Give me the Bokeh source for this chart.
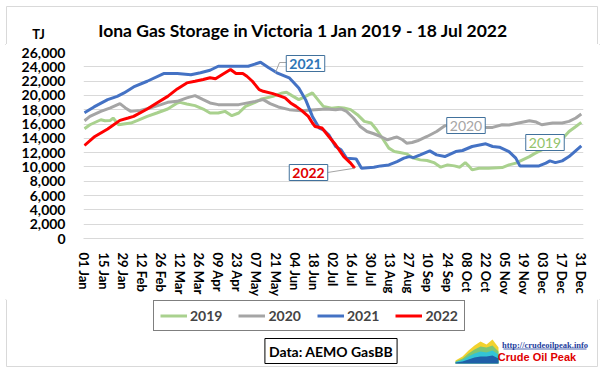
from bokeh.plotting import figure
from bokeh.layouts import column, row
from bokeh.models import (Range1d, FixedTicker, NumeralTickFormatter, Label, Legend,
                          LegendItem)
from bokeh.embed import file_html
from bokeh.resources import INLINE

# ---------------- data ----------------
tick_days = [0, 14, 28, 42, 56, 70, 84, 98, 112, 126, 140, 154, 168, 182, 196, 210,
             224, 238, 252, 266, 280, 294, 308, 322, 336, 350, 364]
tick_labels = ["01 Jan", "15 Jan", "29 Jan", "12 Feb", "26 Feb", "12 Mar", "26 Mar",
               "09 Apr", "23 Apr", "07 May", "21 May", "04 Jun", "18 Jun", "02 Jul",
               "16 Jul", "30 Jul", "13 Aug", "27 Aug", "10 Sep", "24 Sep", "08 Oct",
               "22 Oct", "05 Nov", "19 Nov", "03 Dec", "17 Dec", "31 Dec"]
y_ticks = [0, 2000, 4000, 6000, 8000, 10000, 12000, 14000, 16000, 18000, 20000, 22000,
           24000, 26000]

days_2019 = [0, 4, 12, 15, 19, 21, 25, 30, 34, 39, 46, 53, 61, 68, 70, 75, 81, 87, 92, 98,
             103, 108, 113, 118, 125, 130, 138, 145, 148, 152, 157, 162, 167, 172, 175, 181,
             186, 190, 195, 200, 205, 210, 214, 219, 223, 227, 231, 236, 241, 246, 251, 256,
             261, 266, 271, 275, 279, 282, 284, 289, 296, 306, 311, 316, 321, 326, 330, 335,
             343, 350, 355, 360, 364]
tj_2019 = [15340, 15900, 16600, 16460, 16510, 16840, 15900, 16040, 16140, 16510, 17070,
           17540, 18100, 18950, 19030, 18810, 18570, 18100, 17540, 17540, 17770, 17170,
           17540, 18470, 19030, 19510, 19870, 20350, 20440, 19970, 19410, 19870, 20350,
           19170, 18470, 18200, 18300, 18250, 18010, 17310, 16370, 16140, 15200, 13800,
           12630, 12160, 12020, 11830, 11230, 10990, 10900, 10610, 9970, 10290, 10150,
           9970, 10610, 10050, 9590, 9830, 9830, 9910, 10290, 10530, 10990, 11450, 11900,
           12390, 13100, 13900, 14960, 15660, 16230]

days_2020 = [0, 4, 12, 19, 26, 30, 34, 41, 48, 56, 61, 68, 75, 81, 87, 92, 98, 113, 125,
             131, 136, 142, 150, 159, 169, 177, 184, 188, 192, 197, 202, 207, 212, 217, 222,
             226, 229, 233, 236, 240, 244, 251, 258, 264, 272, 285, 293, 299, 306, 311, 318,
             326, 331, 335, 343, 350, 355, 360, 364]
tj_2020 = [16460, 17070, 17770, 18250, 18850, 18250, 17770, 17910, 18250, 18710, 19030,
           19170, 19650, 19970, 19410, 18950, 18710, 18710, 19170, 19410, 18850, 18390,
           18010, 17870, 18010, 18100, 18010, 18110, 17770, 16840, 15660, 14960, 14640,
           14260, 13800, 14040, 14180, 13800, 13330, 13420, 13660, 14260, 14960, 15760,
           15900, 15550, 15530, 15530, 15900, 15860, 16140, 16460, 16280, 15900, 16140,
           16140, 16370, 16840, 17400]

days_2021 = [0, 7, 17, 24, 29, 36, 46, 58, 68, 78, 85, 92, 98, 120, 129, 135, 141, 150, 157,
             162, 167, 172, 175, 179, 184, 188, 192, 199, 203, 212, 217, 223, 229, 234, 238,
             241, 246, 253, 258, 264, 272, 277, 284, 294, 299, 304, 311, 316, 319, 333, 338,
             341, 345, 350, 355, 364]
tj_2021 = [17590, 18390, 19410, 19870, 20350, 21190, 21980, 23060, 23060, 22880, 23160,
           23520, 24080, 24080, 24640, 23860, 23160, 22460, 21050, 19410, 17070, 15440,
           15200, 14500, 12860, 12400, 11230, 11130, 9830, 9960, 10150, 10290, 10750, 11230,
           11450, 11310, 11690, 12250, 11690, 11450, 12150, 12300, 12860, 13240, 12860,
           12770, 12150, 11230, 10150, 10150, 10530, 10850, 10610, 10850, 11450, 12950]

days_2022 = [0, 7, 17, 26, 32, 36, 46, 53, 61, 68, 75, 81, 87, 92, 96, 101, 107, 111, 116,
             119, 123, 128, 131, 138, 144, 147, 151, 155, 159, 164, 167, 169, 174, 179, 184,
             190, 195, 198]
tj_2022 = [13000, 14180, 15300, 16510, 16840, 17070, 18100, 18950, 19870, 20910, 21750,
           21980, 22220, 22460, 22320, 22920, 23620, 23060, 23060, 22680, 21980, 20810,
           20580, 20250, 19870, 19650, 18950, 18470, 17910, 17070, 16140, 15660, 15440,
           14260, 13100, 11450, 10530, 9830]

series_names = ["2019", "2020", "2021", "2022"]
series_colors = ["#A9D18E", "#A5A5A5", "#4472C4", "#FF0000"]

title_text = "Iona Gas Storage in Victoria 1 Jan 2019 - 18 Jul 2022"
unit_text = "TJ"
source_text = "Data: AEMO GasBB"
logo_url = "http://crudeoilpeak.info"
logo_name = "Crude Oil Peak"

# ---------------- layout constants (page pixels) ----------------
W = 605
HEAD_H = 44
MAIN_TOP = 8
FL, FW, FH = 83, 500, 186
MAIN_BOTTOM = 58
MAIN_H = MAIN_TOP + FH + MAIN_BOTTOM
FOOT_H = 372 - HEAD_H - MAIN_H
FOOT_Y0 = HEAD_H + MAIN_H
X_START, X_END = -0.7, 365.6
Y_START, Y_END = 0, 26000
FT = HEAD_H + MAIN_TOP

FONT = "Lato"
BORDER = "#D9D9D9"


def px(X, Y):
    """reference page pixel -> main chart data coordinates (for callout placement)"""
    d = X_START + (X - FL) / FW * (X_END - X_START)
    v = Y_START + (FT + FH - Y) / FH * (Y_END - Y_START)
    return d, v


def blank(h, y0):
    f = figure(width=W, height=h, x_range=Range1d(0, W), y_range=Range1d(y0 + h, y0),
               min_border=0, output_backend="svg", toolbar_location=None,
               background_fill_color="white", border_fill_color="white")
    f.axis.visible = False
    f.grid.visible = False
    f.outline_line_color = None
    return f


# ---------------- header ----------------
head = blank(HEAD_H, 0)
head.line([6, 6, 597, 597], [HEAD_H, 6, 6, HEAD_H], line_color=BORDER, line_width=1)
head.add_layout(Label(x=303, y=30, text=title_text, text_align="center",
                      text_baseline="middle", text_font=FONT, text_font_style="bold",
                      text_font_size="17.5px", text_color="black"))
head.add_layout(Label(x=38, y=33, text=unit_text, text_align="center",
                      text_baseline="middle", text_font=FONT, text_font_style="bold",
                      text_font_size="13px", text_color="black"))

# ---------------- main chart ----------------
p = figure(frame_width=FW, frame_height=FH, min_border_left=FL, min_border_right=W - FL - FW,
           min_border_top=MAIN_TOP, min_border_bottom=MAIN_BOTTOM, output_backend="svg",
           toolbar_location=None, x_range=Range1d(X_START, X_END),
           y_range=Range1d(Y_START, Y_END), background_fill_color="white",
           border_fill_color="white")
p.outline_line_color = None
p.xgrid.visible = False
p.ygrid.grid_line_color = "#D9D9D9"
p.ygrid.ticker = FixedTicker(ticks=y_ticks)

p.yaxis.ticker = FixedTicker(ticks=y_ticks)
p.yaxis.formatter = NumeralTickFormatter(format="0,0")
p.yaxis.axis_line_color = None
p.yaxis.major_tick_line_color = None
p.yaxis.minor_tick_line_color = None
p.yaxis.major_label_standoff = 12
p.yaxis.major_label_text_font = FONT
p.yaxis.major_label_text_font_style = "bold"
p.yaxis.major_label_text_font_size = "14px"
p.yaxis.major_label_text_color = "black"

p.xaxis.ticker = FixedTicker(ticks=tick_days)
p.xaxis.major_label_overrides = {d: l for d, l in zip(tick_days, tick_labels)}
p.xaxis.major_label_orientation = "vertical"
p.xaxis.axis_line_color = "#D9D9D9"
p.xaxis.major_tick_line_color = None
p.xaxis.minor_tick_line_color = None
p.xaxis.major_label_standoff = 8
p.xaxis.major_label_text_font = FONT
p.xaxis.major_label_text_font_style = "bold"
p.xaxis.major_label_text_font_size = "13px"
p.xaxis.major_label_text_color = "black"

for d, v, c in zip([days_2019, days_2020, days_2021, days_2022],
                   [tj_2019, tj_2020, tj_2021, tj_2022], series_colors):
    p.line(d, v, line_color=c, line_width=3)

# callouts
BOX = "#41719C"
lx1, ly1 = px(327, 172)
p.line([lx1, days_2022[-1]], [ly1, tj_2022[-1]], line_color="#A5A5A5", line_width=1)
a1, a2, a3 = px(287, 62), px(279, 62), px(275, 72)
p.line([a1[0], a2[0], a3[0]], [a1[1], a2[1], a3[1]], line_color="#A5A5A5", line_width=1)

callouts = [("2021", (305, 63), "#2E75B6", "bold"),
            ("2022", (308, 172), "#E00000", "bold"),
            ("2020", (465.5, 125), "#A5A5A5", "normal"),
            ("2019", (544.5, 142), "#92C36A", "normal")]
for txt, (X, Y), col, style in callouts:
    x, y = px(X, Y)
    p.add_layout(Label(x=x, y=y, text=txt, text_align="center", text_baseline="middle",
                       text_font=FONT, text_font_style=style, text_font_size="14px",
                       text_color=col, background_fill_color="white",
                       border_line_color=BOX, border_line_width=1, padding=3))

# ---------------- footer ----------------
foot = blank(FOOT_H, FOOT_Y0)
foot.line([6, 6, 597, 597], [FOOT_Y0, 363, 363, FOOT_Y0], line_color=BORDER, line_width=1)
# legend sample renderers sit outside the visible footer range
legend_renderers = [foot.line([-60, -50], [FOOT_Y0, FOOT_Y0], line_color=c, line_width=3)
                    for c in series_colors]
legend = Legend(items=[LegendItem(label=n, renderers=[r])
                       for n, r in zip(series_names, legend_renderers)],
                orientation="horizontal", location=(153, 372 - 328),
                border_line_color="black", border_line_width=1,
                background_fill_color="white", background_fill_alpha=1,
                label_text_font=FONT, label_text_font_style="bold",
                label_text_font_size="14px", glyph_width=27, glyph_height=15,
                label_standoff=3, spacing=16, padding=6, margin=0)
foot.add_layout(legend)

foot.add_layout(Label(x=330.5, y=347.5, text=source_text, text_align="center",
                      text_baseline="middle", text_font=FONT, text_font_style="bold",
                      text_font_size="14px", text_color="black",
                      background_fill_color="white", border_line_color="black",
                      border_line_width=1, padding=4))

# logo
LX = [455, 462, 468, 474, 480, 486, 492, 498]
layers = [("#F2D22E", [357, 353, 347, 342, 338, 341, 336, 344]),
          ("#7CC576", [358, 355, 350, 346, 343, 344, 342, 348]),
          ("#33C4D6", [358.5, 356.5, 353, 350, 348, 349, 347, 351]),
          ("#1F5FA8", [359, 358, 356, 354, 353, 353, 352, 355])]
for col, tops in layers:
    foot.varea(x=LX, y1=tops, y2=[360] * len(LX), fill_color=col)
foot.add_layout(Label(x=544.5, y=341, text=logo_url, text_align="center",
                      text_baseline="middle", text_font="Liberation Serif",
                      text_font_style="bold", text_font_size="8.5px", text_color="#1F3FA0"))
foot.line([503, 586], [345.5, 345.5], line_color="#1F3FA0", line_width=0.8)
foot.add_layout(Label(x=536.5, y=353.5, text=logo_name, text_align="center",
                      text_baseline="middle", text_font="Liberation Sans",
                      text_font_style="bold", text_font_size="11px", text_color="#E00000"))

layout = column(row(head), p, row(foot), spacing=0,
                styles={"outline": "1px solid #D9D9D9", "outline-offset": "-6px"})
open("out.html", "w").write(file_html(layout, INLINE))
